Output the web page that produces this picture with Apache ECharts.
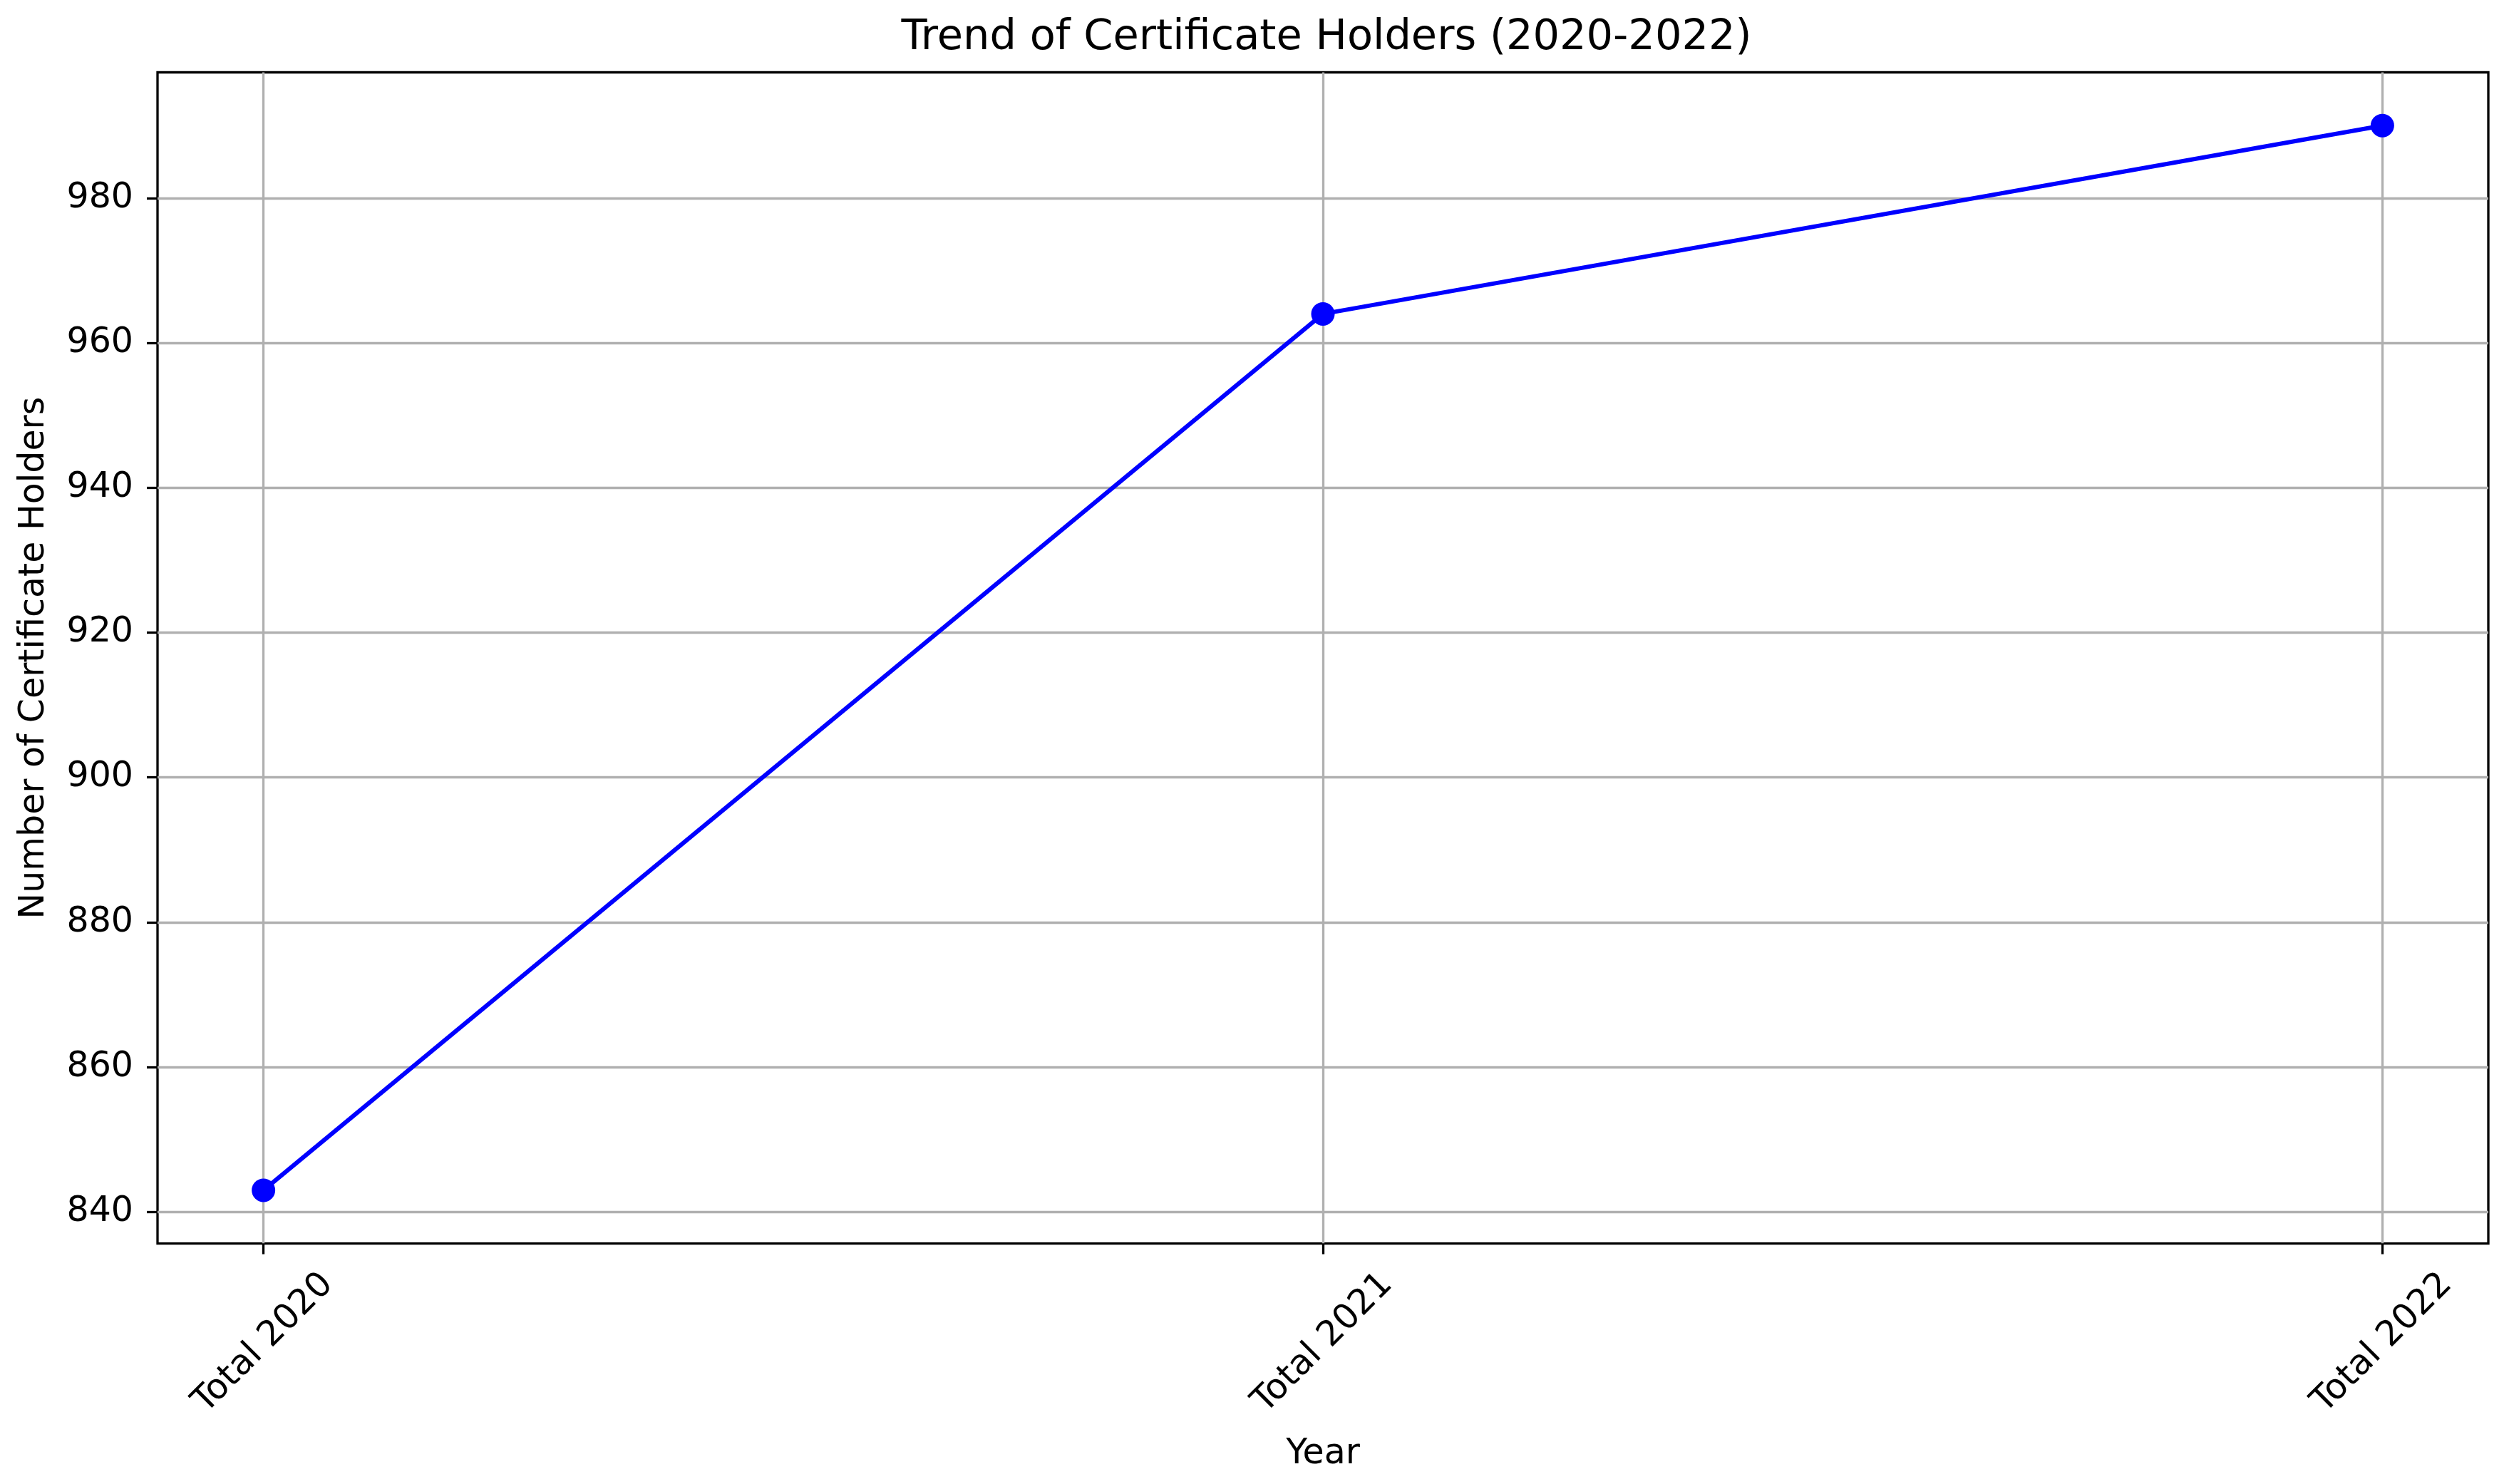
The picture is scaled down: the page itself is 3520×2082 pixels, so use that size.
<!DOCTYPE html>
<html>
<head>
<meta charset="utf-8">
<title>Trend of Certificate Holders</title>
<script src="https://cdn.jsdelivr.net/npm/echarts@6/dist/echarts.min.js"></script>
<style>
  html, body { margin: 0; padding: 0; background: #fff; }
  #main { width: 3520px; height: 2082px; }
</style>
</head>
<body>
<div id="main"></div>
<script>
// data
const years = ['Total 2020', 'Total 2021', 'Total 2022'];
const holders = [843, 964, 990];
const yTicks = [840, 860, 880, 900, 920, 940, 960, 980];

const FONT = 'DejaVu Sans';
const xIdx = years.map((y, i) => i);

let chart = echarts.init(document.getElementById('main'), null, { renderer: 'canvas' });

let option = {
  backgroundColor: '#ffffff',
  animation: false,
  textStyle: { fontFamily: FONT },
  title: {
    text: 'Trend of Certificate Holders (2020-2022)',
    left: 1856,
    textAlign: 'center',
    top: 19,
    textStyle: { fontFamily: FONT, fontSize: 59, fontWeight: 'normal', color: '#000' }
  },
  grid: {
    left: 221,
    right: 29,
    top: 101.5,
    bottom: 337.4,
    containLabel: false,
    outerBoundsMode: 'none',
    show: true,
    borderColor: '#000',
    borderWidth: 3.3
  },
  xAxis: {
    type: 'value',
    min: -0.1,
    max: 2.1,
    name: 'Year',
    nameLocation: 'middle',
    nameGap: 271,
    nameTextStyle: { fontFamily: FONT, fontSize: 49, color: '#000' },
    axisLine: { show: false, onZero: false },
    axisTick: {
      show: true, inside: false, length: 15, customValues: xIdx,
      lineStyle: { color: '#000', width: 3.3 }
    },
    axisLabel: {
      customValues: xIdx,
      rotate: 45,
      align: 'center',
      verticalAlign: 'middle',
      margin: 140,
      fontFamily: FONT,
      fontSize: 49,
      color: '#000',
      formatter: v => years[Math.round(v)]
    },
    splitLine: { show: true, lineStyle: { color: '#b0b0b0', width: 3.3 } }
  },
  yAxis: {
    type: 'value',
    min: 835.65,
    max: 997.35,
    name: 'Number of Certificate Holders',
    nameLocation: 'middle',
    nameGap: 148,
    nameTextStyle: { fontFamily: FONT, fontSize: 49, color: '#000' },
    axisLine: { show: false, onZero: false },
    axisTick: {
      show: true, inside: false, length: 15, customValues: yTicks,
      lineStyle: { color: '#000', width: 3.3 }
    },
    axisLabel: {
      customValues: yTicks,
      margin: 34,
      fontFamily: FONT,
      fontSize: 49,
      color: '#000'
    },
    splitLine: { show: true, lineStyle: { color: '#b0b0b0', width: 3.3 } }
  },
  series: [
    {
      name: 'Certificate Holders',
      type: 'line',
      data: holders.map((v, i) => [xIdx[i], v]),
      symbol: 'circle',
      symbolSize: 33,
      showSymbol: true,
      lineStyle: { color: '#0000ff', width: 6 },
      itemStyle: { color: '#0000ff' },
      z: 5
    }
  ]
};

chart.setOption(option);
</script>
</body>
</html>
